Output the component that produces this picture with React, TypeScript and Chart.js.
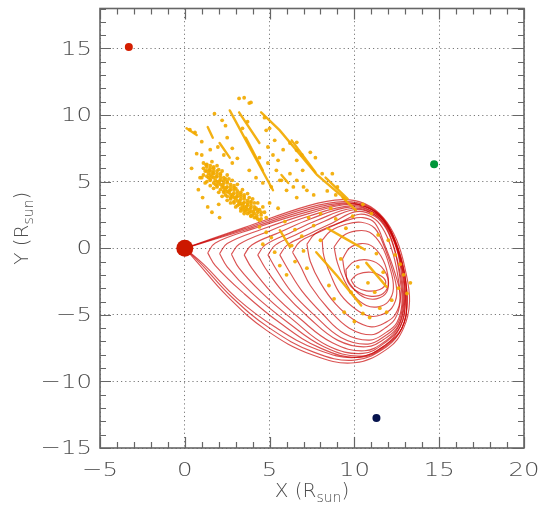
import React, { useEffect, useRef } from 'react';
import { Chart, registerables } from 'chart.js';

Chart.register(...registerables);

// ---------- axes ----------
const X_MIN = -5;
const X_MAX = 20;
const Y_MIN = -15;
const Y_MAX = 18;
const MAJOR_STEP = 5;
const X_TITLE = ['X (R', 'sun', ')'];
const Y_TITLE = ['Y (R', 'sun', ')'];

// ---------- bodies ----------
const sunPos = [[0, 0]];
const redBodyPos = [[-3.3, 15.1]];
const greenBodyPos = [[14.7, 6.3]];
const navyBodyPos = [[11.3, -12.75]];

// ---------- red flux-rope loops ----------
const loop01 = [[0,0],[3.5,1.55],[7.3,3.2],[9.3,3.65],[10.6,3.35],[11.7,2.3],[12.5,0.6],[13.0,-1.6],[13.25,-4.0],[12.9,-6.0],[12.0,-7.5],[10.0,-8.6],[7.5,-8.0],[4.8,-6.15],[2.5,-3.6],[0.7,-1],[0,0]];
const loop02 = [[0,0],[3.5,1.45],[7.3,3.05],[9.4,3.5],[10.7,3.2],[11.7,2.2],[12.4,0.5],[12.9,-1.6],[13.1,-4.0],[12.8,-6.0],[11.9,-7.4],[10.0,-8.4],[7.6,-7.8],[5.0,-6.0],[2.8,-3.7],[0.9,-1.1],[0,0]];
const loop03 = [[0,0],[3.5,1.35],[7.3,2.9],[9.5,3.4],[10.8,3.05],[11.7,2.1],[12.4,0.4],[12.85,-1.7],[13.0,-4.0],[12.7,-5.9],[11.8,-7.3],[10.1,-8.2],[7.8,-7.6],[5.3,-5.9],[3.1,-3.8],[1.1,-1.2],[0,0]];
const loop04 = [[1.35,-0.35],[1.8,0.4],[4,1.45],[7.3,2.75],[9.6,3.35],[10.9,3.0],[11.8,2.0],[12.5,0.3],[12.95,-1.8],[13.1,-4.1],[12.8,-6.0],[11.9,-7.3],[10.3,-8.2],[8.0,-7.5],[5.6,-5.6],[3.4,-3.3],[1.8,-1.3],[1.35,-0.35]];
const loop05 = [[2.05,-0.4],[2.5,0.35],[4.5,1.4],[7.3,2.6],[9.7,3.3],[11.0,2.9],[11.9,1.9],[12.5,0.2],[12.95,-1.9],[13.1,-4.2],[12.8,-6.0],[11.9,-7.2],[10.4,-8.1],[8.2,-7.4],[6.0,-5.5],[3.9,-3.3],[2.5,-1.4],[2.05,-0.4]];
const loop06 = [[2.75,-0.45],[3.2,0.3],[5,1.3],[7.3,2.4],[9.8,3.2],[11.0,2.8],[11.9,1.8],[12.5,0.1],[12.9,-2.0],[13.0,-4.2],[12.7,-5.9],[11.9,-7.0],[10.5,-7.9],[8.4,-7.3],[6.4,-5.4],[4.5,-3.3],[3.2,-1.5],[2.75,-0.45]];
const loop07 = [[3.5,-0.5],[3.95,0.25],[5.6,1.2],[7.4,2.2],[9.8,3.1],[11.1,2.7],[11.9,1.7],[12.5,0],[12.85,-2.1],[12.95,-4.2],[12.6,-5.9],[11.9,-6.9],[10.6,-7.7],[8.7,-7.1],[6.8,-5.3],[5.1,-3.3],[3.95,-1.5],[3.5,-0.5]];
const loop08 = [[4.3,-0.5],[4.75,0.25],[6.2,1.15],[7.8,2.1],[9.9,3.0],[11.1,2.6],[11.9,1.6],[12.5,-0.1],[12.8,-2.2],[12.9,-4.2],[12.6,-5.8],[11.9,-6.7],[10.7,-7.4],[9.0,-6.9],[7.3,-5.2],[5.8,-3.3],[4.75,-1.5],[4.3,-0.5]];
const loop09 = [[4.9,-0.5],[5.35,0.25],[6.7,1.1],[8.2,2.0],[10.0,2.9],[11.2,2.5],[11.9,1.5],[12.4,-0.2],[12.75,-2.3],[12.85,-4.2],[12.55,-5.7],[11.9,-6.5],[10.8,-7.2],[9.2,-6.7],[7.7,-5.1],[6.3,-3.3],[5.35,-1.5],[4.9,-0.5]];
const loop10 = [[5.6,-0.5],[6.05,0.25],[7.3,1.05],[8.7,1.9],[10.1,2.75],[11.2,2.4],[11.9,1.4],[12.4,-0.3],[12.7,-2.4],[12.8,-4.2],[12.5,-5.6],[11.9,-6.3],[10.9,-6.9],[9.4,-6.4],[8.1,-4.9],[6.9,-3.2],[6.05,-1.5],[5.6,-0.5]];
const loop11 = [[6.35,-0.3],[6.8,0.5],[7.9,1.2],[9.2,1.95],[10.3,2.55],[11.2,2.2],[11.8,1.2],[12.3,-0.5],[12.6,-2.4],[12.7,-4.0],[12.4,-5.3],[11.8,-6.0],[11.0,-6.5],[9.7,-6.0],[8.5,-4.6],[7.4,-2.8],[6.8,-1.3],[6.35,-0.3]];
const loop12 = [[7.2,0.3],[7.7,1.1],[8.7,1.7],[9.7,2.15],[10.5,2.3],[11.2,1.9],[11.8,0.2],[12.4,-1.9],[12.7,-3.7],[12.4,-5.0],[11.8,-5.6],[11.0,-5.9],[10.0,-5.4],[8.9,-4.2],[8.0,-2.6],[7.4,-1.0],[7.2,0.3]];
const loop13 = [[8.1,0.6],[8.6,1.3],[9.5,1.8],[10.4,1.95],[11.2,1.5],[11.8,0],[12.3,-1.9],[12.5,-3.4],[12.2,-4.5],[11.6,-5.0],[10.9,-5.1],[10.1,-4.6],[9.2,-3.5],[8.6,-2.0],[8.2,-0.6],[8.1,0.6]];
const loop14 = [[8.8,0.1],[9.3,0.9],[10.1,1.3],[10.9,1.2],[11.6,0.2],[12.1,-1.5],[12.3,-3.0],[12.0,-4.0],[11.4,-4.4],[10.7,-4.3],[10.0,-3.6],[9.4,-2.4],[9.0,-1.1],[8.8,0.1]];
const loop15 = [[9.3,-0.8],[9.7,0.0],[10.4,0.35],[11.1,0.1],[11.7,-0.9],[12.0,-2.3],[11.9,-3.3],[11.3,-3.8],[10.6,-3.7],[10.0,-3.1],[9.5,-2.1],[9.3,-0.8]];
const loop16 = [[9.5,-1.6],[10.0,-1.0],[10.9,-0.9],[11.6,-1.4],[12.0,-2.5],[11.7,-3.4],[10.9,-3.6],[10.1,-3.2],[9.6,-2.5],[9.5,-1.6]];
const loop17 = [[9.8,-2.4],[10.2,-1.95],[11.0,-1.8],[11.6,-2.1],[11.85,-2.6],[11.5,-3.1],[10.7,-3.2],[10.1,-2.9],[9.8,-2.4]];
const loops = [loop01, loop02, loop03, loop04, loop05, loop06, loop07, loop08, loop09, loop10, loop11, loop12, loop13, loop14, loop15, loop16, loop17];

// ---------- orange streaks (tracked features) ----------
const streakA = [[2.65,10.35],[3.9,7.4],[5.2,4.35]];
const streakB = [[3.2,10.2],[4.4,7.9]];
const streakC = [[3.6,8.3],[4.6,5.85]];
const streakD = [[4.5,10.2],[5.6,8.85],[7.8,5.5],[9.5,3.65]];
const streakE = [[6.3,8.1],[7.7,5.7]];
const streakF = [[8.3,5.3],[9.6,3.7]];
const streakG = [[7.75,-0.3],[9.0,-2.1],[10.4,-4.3]];
const streakH = [[8.4,1.5],[9.5,0.7],[10.6,-0.1]];
const streakI = [[10.7,-1.1],[11.9,-2.9]];
const streakJ = [[9.3,3.8],[10.1,2.85]];
const streakK = [[2.05,7.9],[2.65,6.8]];
const streakL = [[1.35,9.1],[1.65,8.3]];
const streakM = [[0.1,9.0],[0.7,8.5]];
const streakN = [[5.6,1.35],[6.2,0.1]];
const streakO = [[5.7,5.5],[6.1,4.9]];
const streaks = [streakA, streakB, streakC, streakD, streakE, streakF, streakG, streakH, streakI, streakJ, streakK, streakL, streakM, streakN, streakO];

// ---------- orange points ----------
const cloudCore = [
  [1.1,6.4],[1.3,6.1],[1.2,5.8],[1.5,6.0],[1.4,5.6],[1.7,5.8],[1.6,5.4],[1.9,5.6],[1.8,5.1],[2.1,5.3],[2.0,4.9],[2.3,5.1],
  [2.2,4.6],[2.5,4.9],[2.4,4.4],[2.7,4.6],[2.6,4.2],[2.9,4.4],[2.8,3.9],[3.1,4.1],[3.0,3.7],[3.3,3.9],[3.2,3.4],[3.5,3.7],
  [3.4,3.2],[3.7,3.4],[3.6,3.0],[3.9,3.2],[3.8,2.7],[4.1,2.9],[4.0,2.5],[4.3,2.7],[4.2,2.3],[4.5,2.5],[4.4,2.1],
  [1.0,5.3],[1.3,5.0],[1.5,4.7],[1.7,4.5],[2.0,4.2],[2.2,3.9],[2.5,3.6],[2.7,3.4],[3.0,3.1],[3.3,2.8],[3.5,2.6],
  [1.6,6.5],[1.9,6.2],[2.2,5.8],[2.5,5.5],[2.8,5.1],[3.1,4.8],[3.4,4.4],[3.7,4.1],[4.0,3.7],[4.3,3.4],[4.6,3.1],
  [1.4,5.3],[1.8,4.8],[2.3,4.3],[2.7,3.8],[3.2,3.3],[3.6,2.8],[1.2,4.9],[2.0,5.9],[2.6,5.2],[3.0,4.5],[3.5,4.0],[3.9,3.5],[4.2,3.0],
  [1.25,6.25],[1.45,5.85],[1.65,5.65],[1.85,5.35],[2.05,5.05],[2.25,4.75],[2.45,4.55],[2.65,4.35],[2.85,4.05],[3.05,3.85],
  [3.25,3.55],[3.45,3.35],[3.65,3.15],[3.85,2.95],[4.05,2.75],[4.25,2.45],[1.5,5.1],[1.9,4.6],[2.4,4.0],[2.9,3.5],[3.4,2.95],
  [3.9,2.4],[1.7,6.1],[2.1,5.6],[2.4,5.2],[2.9,4.7],[3.3,4.2],[3.8,3.8],[4.1,3.4],[4.4,2.9],[4.7,2.7],[4.8,2.3]
];
const cloudFill = [
  [1.1,5.5],[1.1,6.0],[1.3,5.4],[1.3,5.8],[1.3,6.3],[1.5,5.2],[1.5,5.5],[1.5,5.8],[1.5,6.2],[1.7,4.9],[1.7,5.3],[1.7,5.6],
  [1.7,6.0],[1.9,4.7],[1.9,5.0],[1.9,5.4],[1.9,5.8],[2.1,4.4],[2.1,4.8],[2.1,5.1],[2.1,5.5],[2.3,4.2],[2.3,4.55],[2.3,4.9],
  [2.3,5.3],[2.5,3.9],[2.5,4.25],[2.5,4.6],[2.5,5.0],[2.7,3.7],[2.7,4.05],[2.7,4.4],[2.7,4.8],[2.9,3.4],[2.9,3.8],[2.9,4.15],
  [2.9,4.55],[3.1,3.2],[3.1,3.55],[3.1,3.9],[3.1,4.3],[3.3,3.0],[3.3,3.35],[3.3,3.7],[3.3,4.05],[3.5,2.8],[3.5,3.1],[3.5,3.45],
  [3.5,3.85],[3.7,2.6],[3.7,2.9],[3.7,3.25],[3.7,3.6],[3.9,2.45],[3.9,2.75],[3.9,3.05],[3.9,3.4],[4.1,2.3],[4.1,2.6],[4.1,3.1],
  [4.3,2.2],[4.3,2.85],[4.5,2.2],[4.5,2.7]
];
const cloudUpper = [
  [0.3,8.9],[0.6,8.7],[1.75,10.1],[1.95,7.6],[0.9,5.3],[1.05,3.8],[1.35,3.1],[2.05,2.3],[2.8,6.4],[3.1,6.75],[3.8,5.85],
  [4.2,5.3],[4.6,4.9],[5.4,5.85],[5.7,5.1],[6.0,4.35],[6.6,3.8],[7.2,4.35],[6.6,6.6],[6.95,5.85],[8.1,5.6],[8.7,5.6],
  [4.4,6.8],[4.9,7.6],[6.2,7.9],[6.6,7.95],[4.7,9.8],[3.8,10.9],[3.2,11.25],[3.5,11.3],[3.9,10.95],[2.5,8.3],[2.8,7.5],
  [4.8,8.85],[6.6,7.35],[6.2,5.6],[5.6,5.1],[5.1,4.6],[6.6,5.1],[0.4,6.0],[0.7,7.1],[1.6,2.7],[5.2,7.0],[7.4,7.2],[9.0,4.6],
  [2.2,9.6],[2.4,9.2],[1.0,8.0],[1.5,7.4],[2.3,7.0],[3.4,9.0],[3.7,9.5],[5.0,9.0],[5.3,8.1],[5.8,7.4],[6.9,7.0],[7.7,6.8],
  [7.0,4.6],[7.6,4.0],[8.4,4.3],[8.9,4.0],[5.0,3.4],[5.5,3.0],[4.9,6.4],[5.5,6.6],[6.4,4.6],[2.0,3.3],[0.8,4.4],[1.0,7.0]
];
const cloudInner = [
  [4.4,1.6],[4.8,1.2],[5.1,0.8],[4.6,0.3],[5.3,-0.3],[5.9,2.0],[6.5,1.4],[6.9,0.9],[7.3,2.3],[7.6,1.7],[8.0,2.6],[8.6,3.0],
  [8.9,2.2],[9.5,1.5],[9.9,2.4],[10.5,3.3],[11.0,2.6],[11.4,1.0],[12.0,0.6],[12.4,-0.5],[12.7,-1.2],[12.9,-2.0],[13.3,-2.6],
  [13.1,-3.4],[12.6,-3.0],[12.2,-3.9],[11.5,-4.5],[10.9,-5.2],[10.0,-5.5],[9.4,-4.8],[8.8,-3.8],[8.5,-2.8],[7.2,-1.5],
  [6.5,-1.0],[6.0,-2.0],[7.0,-0.2],[8.0,0.6],[9.2,-0.8],[10.2,-1.4],[11.3,-0.4],[11.7,-1.8],[10.8,-2.6],[11.2,-3.3],
  [11.9,-4.8],[9.8,-3.3],[10.5,-4.9],[6.3,0.2],[5.6,-1.3]
];

// ---------- colors / fonts ----------
const LOOP_COLOR = 'rgba(200,0,0,0.68)';
const CME_COLOR = 'rgba(242,170,0,0.92)';
const AXIS_COLOR = '#666666';
const TEXT_COLOR = '#4e4e4e';
const GRID_COLOR = '#7a7a7a';
const FONT_FAMILY = '"DejaVu Sans", "Liberation Sans", Arial, sans-serif';

const toXY = (arr: number[][]) => arr.map(([x, y]) => ({ x, y }));
const fmt = (v: number) => (v < 0 ? '\u2212' + Math.abs(v) : String(v));

const framePlugin = {
  id: 'frame',
  afterDatasetsDraw(chart: any) {
    const { ctx, chartArea } = chart;
    const { left, right, top, bottom } = chartArea;
    const xs = chart.scales.x;
    const ys = chart.scales.y;
    ctx.save();
    ctx.strokeStyle = AXIS_COLOR;
    ctx.lineWidth = 1.2;
    ctx.beginPath();
    xs.ticks.forEach((t: any) => {
      const px = Math.round(xs.getPixelForValue(t.value)) + 0.5;
      const len = t.value % MAJOR_STEP === 0 ? 11 : 6;
      ctx.moveTo(px, bottom); ctx.lineTo(px, bottom - len);
      ctx.moveTo(px, top); ctx.lineTo(px, top + len);
    });
    ys.ticks.forEach((t: any) => {
      const py = Math.round(ys.getPixelForValue(t.value)) + 0.5;
      const len = t.value % MAJOR_STEP === 0 ? 11 : 6;
      ctx.moveTo(left, py); ctx.lineTo(left + len, py);
      ctx.moveTo(right, py); ctx.lineTo(right - len, py);
    });
    ctx.stroke();
    ctx.lineWidth = 1.6;
    ctx.strokeRect(left, top, right - left, bottom - top);

    // tick labels (wide, thin lettering)
    ctx.fillStyle = TEXT_COLOR;
    ctx.font = '200 20px ' + FONT_FAMILY;
    ctx.textBaseline = 'middle';
    const label = (text: string, x: number, y: number, align: string) => {
      ctx.save();
      ctx.translate(x, y);
      ctx.scale(1.22, 1);
      ctx.textAlign = align;
      ctx.fillText(text, 0, 0);
      ctx.restore();
    };
    xs.ticks.forEach((t: any) => {
      if (t.value % MAJOR_STEP !== 0) return;
      label(fmt(t.value), xs.getPixelForValue(t.value), bottom + 23, 'center');
    });
    ys.ticks.forEach((t: any) => {
      if (t.value % MAJOR_STEP !== 0) return;
      label(fmt(t.value), left - 8, ys.getPixelForValue(t.value) + 1, 'right');
    });

    // axis titles with subscript
    const big = '200 20px ' + FONT_FAMILY;
    const small = '200 14px ' + FONT_FAMILY;
    const drawTitle = (parts: string[], cx: number, baseY: number) => {
      ctx.font = big; const w0 = ctx.measureText(parts[0]).width; const w2 = ctx.measureText(parts[2]).width;
      ctx.font = small; const w1 = ctx.measureText(parts[1]).width;
      const x0 = cx - (w0 + w1 + w2) / 2;
      ctx.textBaseline = 'alphabetic';
      ctx.textAlign = 'left';
      ctx.font = big; ctx.fillText(parts[0], x0, baseY);
      ctx.font = small; ctx.fillText(parts[1], x0 + w0, baseY + 5);
      ctx.font = big; ctx.fillText(parts[2], x0 + w0 + w1, baseY);
    };
    drawTitle(X_TITLE, (left + right) / 2, 497);
    ctx.save();
    ctx.translate(28, (top + bottom) / 2);
    ctx.rotate(-Math.PI / 2);
    drawTitle(Y_TITLE, 0, 0);
    ctx.restore();
    ctx.restore();
  },
};

export default function App() {
  const ref = useRef<HTMLCanvasElement | null>(null);
  useEffect(() => {
    if (!ref.current) return;
    const datasets: any[] = [];
    const body = (pos: number[][], color: string, r: number) => ({
      data: toXY(pos), pointRadius: r, pointBackgroundColor: color, pointBorderWidth: 0, showLine: false, order: 0,
    });
    datasets.push(body(sunPos, '#cc1800', 8.5));
    datasets.push(body(redBodyPos, '#d41e00', 4));
    datasets.push(body(greenBodyPos, '#00963a', 4));
    datasets.push(body(navyBodyPos, '#06144e', 4));
    [cloudCore, cloudFill, cloudUpper, cloudInner].forEach((pts) => datasets.push({
      data: toXY(pts), pointRadius: 1.9, pointBackgroundColor: CME_COLOR, pointBorderWidth: 0, showLine: false, order: 1,
    }));
    streaks.forEach((s) => datasets.push({
      data: toXY(s), showLine: true, borderColor: CME_COLOR, borderWidth: 2.4, borderCapStyle: 'round', pointRadius: 0, tension: 0, order: 1,
    }));
    loops.forEach((l) => datasets.push({
      data: toXY(l), showLine: true, borderColor: LOOP_COLOR, borderWidth: 1.15, pointRadius: 0, tension: 0.4, order: 2,
    }));

    const gridColor = (c: any) => (c.tick && c.tick.value % MAJOR_STEP === 0 ? GRID_COLOR : 'rgba(0,0,0,0)');
    const chart = new Chart(ref.current, {
      type: 'scatter',
      data: { datasets },
      plugins: [framePlugin],
      options: {
        responsive: false,
        animation: false,
        devicePixelRatio: 1,
        events: [],
        layout: { padding: { top: 8, right: 16, left: 0, bottom: 0 } },
        plugins: { legend: { display: false }, tooltip: { enabled: false } },
        scales: {
          x: {
            type: 'linear', min: X_MIN, max: X_MAX,
            ticks: { stepSize: 1, autoSkip: false, display: false },
            grid: { drawTicks: false, color: gridColor, lineWidth: 1 },
            border: { display: false, dash: [1.2, 3] },
            afterFit: (s: any) => { s.height = 62; s.paddingLeft = 0; s.paddingRight = 0; },
          },
          y: {
            type: 'linear', min: Y_MIN, max: Y_MAX,
            ticks: { stepSize: 1, autoSkip: false, display: false },
            grid: { drawTicks: false, color: gridColor, lineWidth: 1 },
            border: { display: false, dash: [1.2, 3] },
            afterFit: (s: any) => { s.width = 100; s.paddingTop = 0; s.paddingBottom = 0; },
          },
        },
      } as any,
    });
    return () => chart.destroy();
  }, []);
  return (
    <div style={{ position: 'fixed', left: 0, top: 0, width: 540, height: 510, background: '#fff' }}>
      <canvas ref={ref} width={540} height={510} />
    </div>
  );
}
